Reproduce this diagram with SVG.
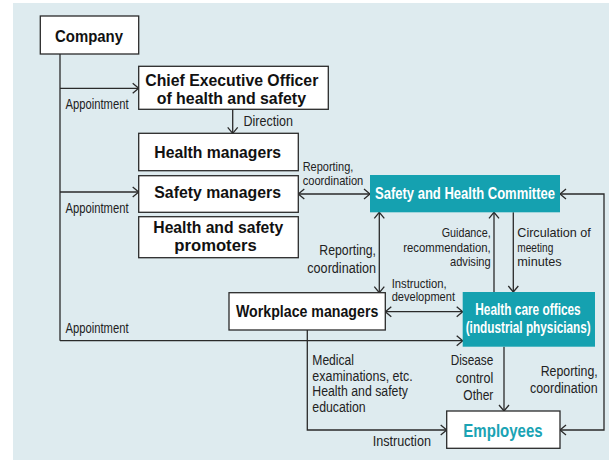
<svg xmlns="http://www.w3.org/2000/svg" width="609" height="461" viewBox="0 0 609 461">
<style>
.box{fill:#fff;stroke:#2a2a2a;stroke-width:1.3}
.teal{fill:#15a1b0}
.c{fill:none;stroke:#2a2a2a;stroke-width:1.3}
text{font-family:"Liberation Sans",Arial,sans-serif}
.b{font-size:16.5px;font-weight:bold;fill:#111}
.w{font-size:16px;font-weight:bold;fill:#fff}
.e{font-size:18px;font-weight:bold;fill:#1aa3b4}
.l{font-size:14px;fill:#222}
.s{font-size:13px;fill:#222}
</style>
<defs>
<marker id="ar" markerUnits="userSpaceOnUse" markerWidth="8" markerHeight="12" viewBox="0 0 8 12" refX="7" refY="6" orient="auto-start-reverse">
<path d="M1,1 L7,6 L1,11" fill="none" stroke="#2a2a2a" stroke-width="1.3"/>
</marker>
</defs>
<rect x="13" y="3" width="596" height="457" fill="#deebef"/>

<g id="connectors">
<path class="c" d="M60,54 V340.7"/>
<path class="c" d="M60,88.3 H138.7" marker-end="url(#ar)"/>
<path class="c" d="M60,192 H138.7" marker-end="url(#ar)"/>
<path class="c" d="M60,340.7 H462.7" marker-end="url(#ar)"/>
<path class="c" d="M232.7,109.3 V133.3" marker-end="url(#ar)"/>
<path class="c" d="M298.3,194 H370" marker-start="url(#ar)" marker-end="url(#ar)"/>
<path class="c" d="M379.3,212.3 V292.7" marker-start="url(#ar)" marker-end="url(#ar)"/>
<path class="c" d="M494,292 V212.3" marker-end="url(#ar)"/>
<path class="c" d="M513.3,212.3 V292" marker-end="url(#ar)"/>
<path class="c" d="M385.3,311.7 H462.7" marker-start="url(#ar)" marker-end="url(#ar)"/>
<path class="c" d="M307.3,330 V430 H446.7" marker-end="url(#ar)"/>
<path class="c" d="M504,346.7 V411" marker-end="url(#ar)"/>
<path class="c" d="M560,194 H604 V430 H560" marker-start="url(#ar)" marker-end="url(#ar)"/>
</g>

<g id="company">
<rect class="box" x="40.3" y="16" width="98.4" height="38"/>
<text class="b" x="55" y="41.5" textLength="68" lengthAdjust="spacingAndGlyphs">Company</text>
</g>
<g id="ceo">
<rect class="box" x="138.7" y="66.3" width="189.6" height="43"/>
<text class="b" x="145.3" y="86" textLength="173" lengthAdjust="spacingAndGlyphs">Chief Executive Officer</text>
<text class="b" x="156.7" y="104" textLength="149.3" lengthAdjust="spacingAndGlyphs">of health and safety</text>
</g>
<g id="health-managers">
<rect class="box" x="138.7" y="133.3" width="159.6" height="37.4"/>
<text class="b" x="154.3" y="158.3" textLength="126.7" lengthAdjust="spacingAndGlyphs">Health managers</text>
</g>
<g id="safety-managers">
<rect class="box" x="138.7" y="175.7" width="159.6" height="36.6"/>
<text class="b" x="154.3" y="198.3" textLength="126.7" lengthAdjust="spacingAndGlyphs">Safety managers</text>
</g>
<g id="promoters">
<rect class="box" x="138.7" y="216.7" width="159.6" height="41"/>
<text class="b" x="153.3" y="233.3" textLength="130" lengthAdjust="spacingAndGlyphs">Health and safety</text>
<text class="b" x="174.3" y="250.7" textLength="82.4" lengthAdjust="spacingAndGlyphs">promoters</text>
</g>
<g id="committee">
<rect class="teal" x="370" y="175" width="190" height="37.3"/>
<text class="w" x="375" y="199.3" textLength="180" lengthAdjust="spacingAndGlyphs">Safety and Health Committee</text>
</g>
<g id="workplace-managers">
<rect class="box" x="229" y="292.7" width="156.3" height="37.3"/>
<text class="b" x="236" y="317.3" textLength="142.3" lengthAdjust="spacingAndGlyphs">Workplace managers</text>
</g>
<g id="health-care-offices">
<rect class="teal" x="462.7" y="292" width="132.3" height="54.7"/>
<text class="w" x="475.3" y="315" textLength="105.4" lengthAdjust="spacingAndGlyphs">Health care offices</text>
<text class="w" x="465.7" y="332.7" textLength="125" lengthAdjust="spacingAndGlyphs">(industrial physicians)</text>
</g>
<g id="employees">
<rect class="box" x="446.7" y="411" width="113.3" height="37.3"/>
<text class="e" x="463.3" y="437.3" textLength="79.4" lengthAdjust="spacingAndGlyphs">Employees</text>
</g>

<g id="labels">
<text class="l" x="65.5" y="109.3" textLength="63" lengthAdjust="spacingAndGlyphs">Appointment</text>
<text class="l" x="243.5" y="126" textLength="49.4" lengthAdjust="spacingAndGlyphs">Direction</text>
<text class="s" x="302.7" y="170.7" textLength="50.6" lengthAdjust="spacingAndGlyphs">Reporting,</text>
<text class="s" x="302.7" y="185" textLength="60.6" lengthAdjust="spacingAndGlyphs">coordination</text>
<text class="l" x="65.5" y="213.3" textLength="63" lengthAdjust="spacingAndGlyphs">Appointment</text>
<text class="l" x="319.3" y="255" textLength="56.7" lengthAdjust="spacingAndGlyphs">Reporting,</text>
<text class="l" x="307.3" y="273.3" textLength="68.7" lengthAdjust="spacingAndGlyphs">coordination</text>
<text class="s" x="441.7" y="236.7" textLength="49" lengthAdjust="spacingAndGlyphs">Guidance,</text>
<text class="s" x="403.3" y="251.7" textLength="87.4" lengthAdjust="spacingAndGlyphs">recommendation,</text>
<text class="s" x="450" y="266" textLength="40.7" lengthAdjust="spacingAndGlyphs">advising</text>
<text class="s" x="517.3" y="236.7" textLength="73.4" lengthAdjust="spacingAndGlyphs">Circulation of</text>
<text class="s" x="517.3" y="251.7" textLength="36" lengthAdjust="spacingAndGlyphs">meeting</text>
<text class="s" x="517.3" y="266" textLength="44.4" lengthAdjust="spacingAndGlyphs">minutes</text>
<text class="s" x="391.7" y="287.5" textLength="55" lengthAdjust="spacingAndGlyphs">Instruction,</text>
<text class="s" x="391.7" y="301" textLength="63.3" lengthAdjust="spacingAndGlyphs">development</text>
<text class="l" x="65.5" y="333.3" textLength="63" lengthAdjust="spacingAndGlyphs">Appointment</text>
<text class="l" x="312.3" y="365" textLength="41.7" lengthAdjust="spacingAndGlyphs">Medical</text>
<text class="l" x="312.3" y="380.7" textLength="100.4" lengthAdjust="spacingAndGlyphs">examinations, etc.</text>
<text class="l" x="312.3" y="396" textLength="95.7" lengthAdjust="spacingAndGlyphs">Health and safety</text>
<text class="l" x="312.3" y="411.7" textLength="53.4" lengthAdjust="spacingAndGlyphs">education</text>
<text class="l" x="450.7" y="365" textLength="42.6" lengthAdjust="spacingAndGlyphs">Disease</text>
<text class="l" x="455.7" y="382.5" textLength="37.6" lengthAdjust="spacingAndGlyphs">control</text>
<text class="l" x="463.3" y="400" textLength="30" lengthAdjust="spacingAndGlyphs">Other</text>
<text class="l" x="540.7" y="376" textLength="57" lengthAdjust="spacingAndGlyphs">Reporting,</text>
<text class="l" x="530" y="393.3" textLength="67.7" lengthAdjust="spacingAndGlyphs">coordination</text>
<text class="l" x="372.7" y="446" textLength="58.3" lengthAdjust="spacingAndGlyphs">Instruction</text>
</g>
</svg>
